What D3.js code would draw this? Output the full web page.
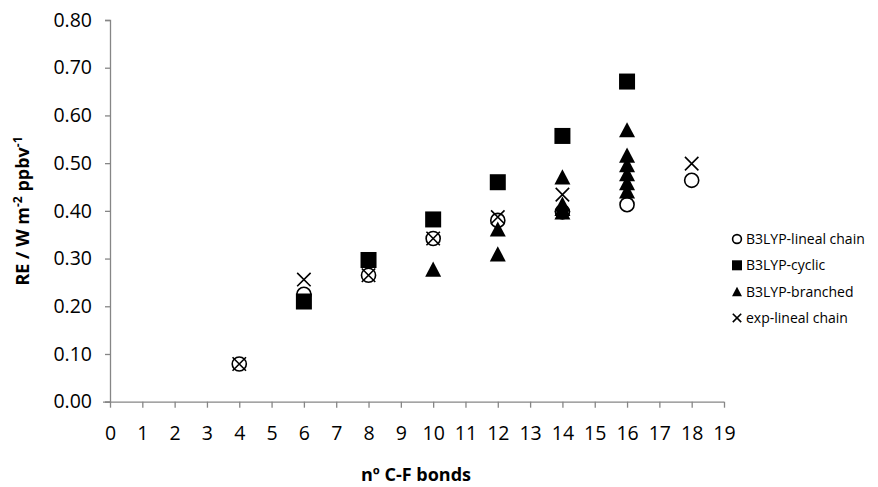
<!DOCTYPE html>
<html>
<head>
<meta charset="utf-8">
<script src="https://cdn.jsdelivr.net/npm/d3@7"></script>
<style>
  body { margin: 0; background: #fff; }
  text { font-family: "Open Sans", sans-serif; fill: #000; }
</style>
</head>
<body>
<div id="chart"></div>
<script>
// RE vs number of C-F bonds

const xTicks = d3.range(0, 20);
const yTicks = [0, 0.1, 0.2, 0.3, 0.4, 0.5, 0.6, 0.7, 0.8];

// series, in the order they are drawn
const seriesNames = ["B3LYP-lineal chain", "B3LYP-cyclic", "B3LYP-branched", "exp-lineal chain"];
const seriesSymbols = ["circle", "square", "triangle", "cross"];

const linealBonds = [4, 6, 8, 10, 12, 14, 16, 18];
const linealRE    = [0.079, 0.225, 0.265, 0.342, 0.380, 0.398, 0.413, 0.464];

const cyclicBonds = [6, 8, 10, 12, 14, 16];
const cyclicRE    = [0.210, 0.297, 0.382, 0.460, 0.557, 0.671];

const branchedBonds = [10, 12, 12, 14, 14, 14, 14, 16, 16, 16, 16, 16, 16];
const branchedRE    = [0.278, 0.362, 0.310, 0.471, 0.414, 0.405, 0.398, 0.570, 0.517, 0.497, 0.478, 0.459, 0.442];

const expBonds = [4, 6, 8, 10, 12, 14, 18];
const expRE    = [0.079, 0.256, 0.265, 0.342, 0.387, 0.434, 0.499];

const chartWidth = 878;
const chartHeight = 487;

const svg = d3.select("#chart").append("svg")
    .attr("width", chartWidth)
    .attr("height", chartHeight);

const x = d3.scaleLinear().domain([0, 19]).range([110, 724]);
const y = d3.scaleLinear().domain([0, 0.8]).range([401.7, 20]);

const axisColor = "#868686";

// y axis
const yAxis = svg.append("g")
    .attr("transform", "translate(" + x(0) + ",0)")
    .call(d3.axisLeft(y).tickValues(yTicks).tickFormat(d3.format(".2f")).tickSize(5).tickPadding(13));
yAxis.select(".domain").attr("stroke", axisColor).attr("stroke-width", 1.3);
yAxis.selectAll(".tick line").attr("stroke", axisColor).attr("stroke-width", 1.3);
yAxis.selectAll("text").style("font-size", "19.5px").attr("font-family", null);

// x axis
const xAxis = svg.append("g")
    .attr("transform", "translate(0," + y(0) + ")")
    .call(d3.axisBottom(x).tickValues(xTicks).tickFormat(d3.format("d")).tickSize(6).tickPadding(18));
xAxis.select(".domain").attr("stroke", axisColor).attr("stroke-width", 1.3)
    .attr("d", "M" + (x(0) - 7) + ",0.5H" + x(19));
xAxis.selectAll(".tick line").attr("stroke", axisColor).attr("stroke-width", 1.3);
xAxis.selectAll("text").style("font-size", "19.5px").attr("font-family", null);

// axis titles
svg.append("text")
    .attr("x", 416).attr("y", 481)
    .attr("text-anchor", "middle")
    .style("font-size", "18px").style("font-weight", "bold")
    .text("nº C-F bonds");

const yTitle = svg.append("text")
    .attr("transform", "translate(29,211) rotate(-90)")
    .attr("text-anchor", "middle")
    .style("font-size", "18px").style("font-weight", "bold");
yTitle.append("tspan").text("RE / W m");
yTitle.append("tspan").attr("dy", -7).style("font-size", "12px").text("-2");
yTitle.append("tspan").attr("dy", 7).text(" ppbv");
yTitle.append("tspan").attr("dy", -7).style("font-size", "12px").text("-1");

// markers
function drawMarker(g, kind, cx, cy, s) {
  if (kind === "circle") {
    g.append("circle").attr("cx", cx).attr("cy", cy).attr("r", s * 0.44)
      .attr("fill", "none").attr("stroke", "#000").attr("stroke-width", 1.6);
  } else if (kind === "square") {
    g.append("rect").attr("x", cx - s / 2).attr("y", cy - s / 2)
      .attr("width", s).attr("height", s).attr("fill", "#000");
  } else if (kind === "triangle") {
    const h = s * 0.95;
    g.append("path")
      .attr("d", d3.line()([[cx, cy - h / 2], [cx + s / 2, cy + h / 2], [cx - s / 2, cy + h / 2]]) + "Z")
      .attr("fill", "#000");
  } else {
    const r = s * 0.42;
    g.append("path")
      .attr("d", "M" + (cx - r) + "," + (cy - r) + "L" + (cx + r) + "," + (cy + r) +
                 "M" + (cx - r) + "," + (cy + r) + "L" + (cx + r) + "," + (cy - r))
      .attr("stroke", "#000").attr("stroke-width", 1.6).attr("fill", "none");
  }
}

const allSeries = [
  [linealBonds, linealRE],
  [cyclicBonds, cyclicRE],
  [branchedBonds, branchedRE],
  [expBonds, expRE]
];

const points = svg.append("g");
allSeries.forEach(function(s, i) {
  s[0].forEach(function(b, j) {
    drawMarker(points, seriesSymbols[i], x(b), y(s[1][j]), 16);
  });
});

// legend
const legend = svg.append("g");
seriesNames.forEach(function(name, i) {
  const ly = 239 + i * 26.3;
  drawMarker(legend, seriesSymbols[i], 737, ly, 10);
  legend.append("text")
    .attr("x", 746).attr("y", ly + 5)
    .style("font-size", "14px")
    .text(name);
});
</script>
</body>
</html>
